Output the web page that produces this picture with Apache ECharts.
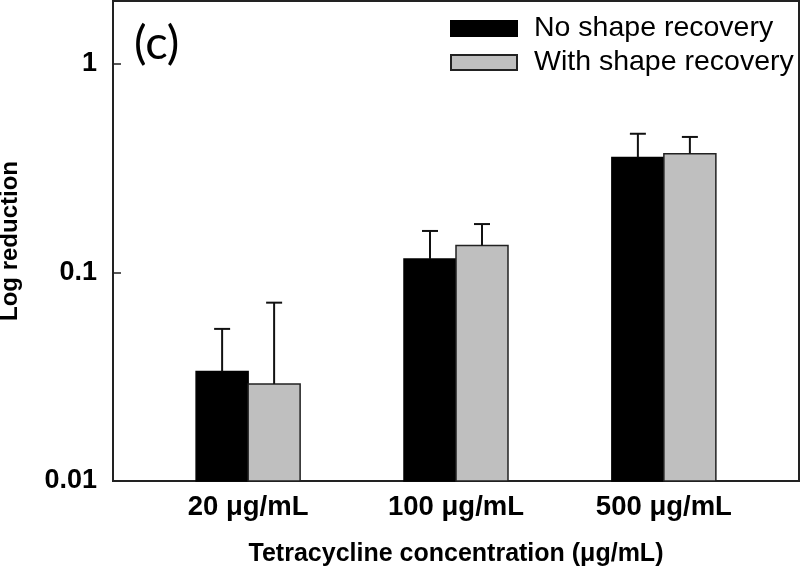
<!DOCTYPE html>
<html>
<head>
	<meta http-equiv="Content-Type" content="text/html;charset=utf-8">
	<title>Log reduction</title>
	<style>
		html, body{
			margin: 0;
			padding: 0;
			background: #fff;
		}
		#chart{
			width: 800px;
			height: 572px;
		}
	</style>
</head>
<body>
<div id="chart"></div>

<script src="https://cdn.jsdelivr.net/npm/echarts@6/dist/echarts.min.js"></script>
<script>
	var categories = ['20 \u03bcg/mL', '100 \u03bcg/mL', '500 \u03bcg/mL'];
	var catPos = [1, 2, 3];
	var seriesNames = ['No shape recovery', 'With shape recovery'];
	var noRecovery = [0.0335, 0.116, 0.355];
	var noRecoveryErr = [0.0536, 0.158, 0.462];
	var withRecovery = [0.0292, 0.1347, 0.371];
	var withRecoveryErr = [0.0716, 0.1705, 0.446];
	var yTicks = [0.01, 0.1, 1];
	var yMin = 0.01, yMax = 2;

	var barW = 52;

	function seriesData(vals, tops){
		return vals.map(function(v, i){ return [catPos[i], v, tops[i]]; });
	}

	// bar from the axis bottom up to the value, plus its upper error bar
	// (log axis bars start at 1 in echarts, so they are drawn here)
	function barRenderer(side, fill, stroke){
		return function(params, api){
			var x = api.value(0);
			var pBase = api.coord([x, yMin]);
			var pTop = api.coord([x, api.value(1)]);
			var pErr = api.coord([x, api.value(2)]);
			var x0 = side < 0 ? pBase[0] - barW : pBase[0];
			var cx = x0 + barW / 2;
			var st = {stroke: '#111', lineWidth: 2};
			return {
				type: 'group',
				children: [
					{
						type: 'rect',
						shape: {x: x0, y: pTop[1], width: barW, height: pBase[1] - pTop[1]},
						style: {fill: fill, stroke: stroke, lineWidth: 1.5}
					},
					{type: 'line', shape: {x1: cx, y1: pTop[1], x2: cx, y2: pErr[1]}, style: st},
					{type: 'line', shape: {x1: cx - 8, y1: pErr[1], x2: cx + 8, y2: pErr[1]}, style: st}
				]
			};
		};
	}

	var option = {
		animation: false,
		backgroundColor: '#fff',
		grid: {
			left: 113, right: 1, top: 1, bottom: 91,
			containLabel: false,
			outerBoundsMode: 'none',
			show: true,
			borderColor: '#222',
			borderWidth: 2
		},
		legend: {
			orient: 'vertical',
			left: 450,
			top: 14,
			padding: 0,
			itemWidth: 66,
			itemHeight: 15,
			itemGap: 5,
			icon: 'rect',
			data: seriesNames,
			textStyle: {
				fontFamily: 'Liberation Sans',
				fontSize: 28.5,
				color: '#000',
				padding: [0, 0, 0, 12]
			}
		},
		graphic: [{
			type: 'text',
			left: 134,
			top: 20,
			style: {
				text: '(c)',
				font: '47px Lato',
				fill: '#000'
			}
		}],
		xAxis: {
			type: 'value',
			min: 0.35,
			max: 3.65,
			splitLine: {show: false},
			axisTick: {show: false},
			axisLine: {show: true, lineStyle: {color: '#222', width: 2}},
			axisLabel: {
				customValues: catPos,
				margin: 12,
				color: '#000',
				fontFamily: 'Liberation Sans',
				fontWeight: 'bold',
				fontSize: 27.5,
				formatter: function(v){
					var i = catPos.indexOf(Math.round(v));
					return i >= 0 ? categories[i] : '';
				}
			},
			name: 'Tetracycline concentration (\u03bcg/mL)',
			nameLocation: 'middle',
			nameGap: 61,
			nameTextStyle: {
				color: '#000',
				fontFamily: 'Liberation Sans',
				fontWeight: 'bold',
				fontSize: 25
			}
		},
		yAxis: {
			type: 'log',
			logBase: 10,
			min: yMin,
			max: yMax,
			splitLine: {show: false},
			axisLine: {show: true, lineStyle: {color: '#222', width: 2}},
			axisTick: {
				show: true,
				inside: true,
				length: 8,
				customValues: yTicks,
				lineStyle: {color: '#222', width: 1.5}
			},
			axisLabel: {
				customValues: yTicks,
				margin: 16,
				color: '#000',
				fontFamily: 'Liberation Sans',
				fontWeight: 'bold',
				fontSize: 27,
				formatter: function(v){
					return String(parseFloat(v.toPrecision(3)));
				}
			},
			name: 'Log reduction',
			nameLocation: 'middle',
			nameGap: 91,
			nameTextStyle: {
				color: '#000',
				fontFamily: 'Liberation Sans',
				fontWeight: 'bold',
				fontSize: 24
			}
		},
		series: [
			{
				name: seriesNames[0],
				type: 'custom',
				renderItem: barRenderer(-1, '#000', '#000'),
				encode: {x: 0, y: [1, 2]},
				data: seriesData(noRecovery, noRecoveryErr),
				itemStyle: {color: '#000', borderColor: '#000', borderWidth: 1.5}
			},
			{
				name: seriesNames[1],
				type: 'custom',
				renderItem: barRenderer(1, '#bfbfbf', '#222'),
				encode: {x: 0, y: [1, 2]},
				data: seriesData(withRecovery, withRecoveryErr),
				itemStyle: {color: '#bfbfbf', borderColor: '#222', borderWidth: 1.5}
			}
		]
	};

	var myChart = echarts.init(document.getElementById('chart'));
	myChart.setOption(option);
</script>
</body>
</html>
